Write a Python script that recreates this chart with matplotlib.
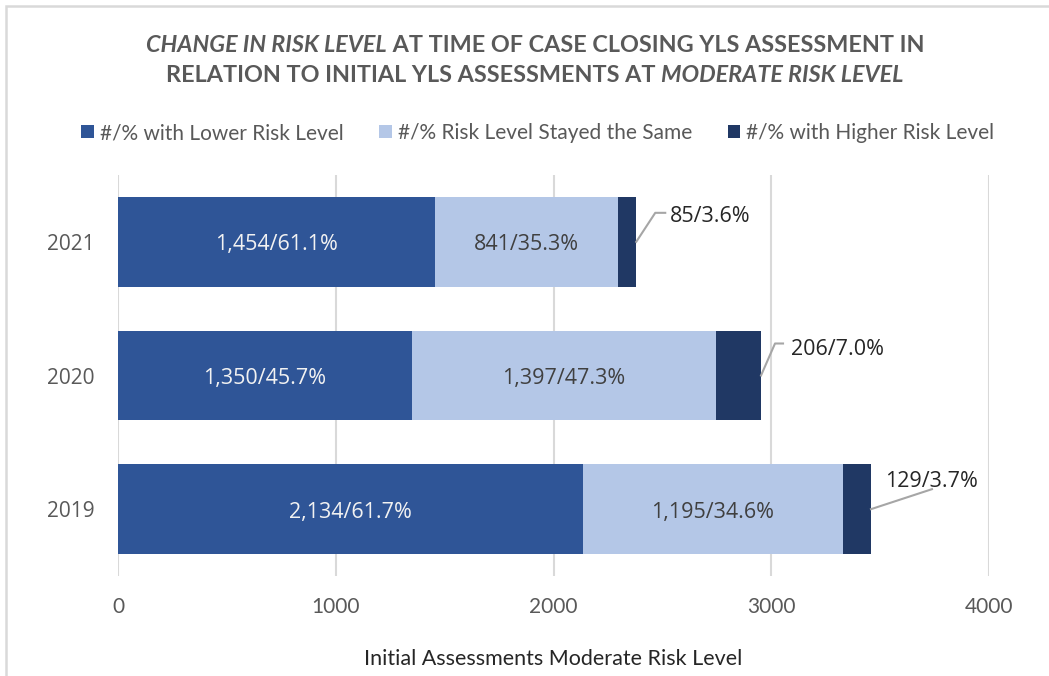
import matplotlib
matplotlib.use("Agg")
import matplotlib.pyplot as plt
from matplotlib.patches import Rectangle

years = ["2019", "2020", "2021"]
lower = [2134, 1350, 1454]
same = [1195, 1397, 841]
higher = [129, 206, 85]
lower_lbl = ["2,134/61.7%", "1,350/45.7%", "1,454/61.1%"]
same_lbl = ["1,195/34.6%", "1,397/47.3%", "841/35.3%"]
higher_lbl = ["129/3.7%", "206/7.0%", "85/3.6%"]
series_names = ["#/% with Lower Risk Level", "#/% Risk Level Stayed the Same",
                "#/% with Higher Risk Level"]
xticks = [0, 1000, 2000, 3000, 4000]
title1 = [("CHANGE IN RISK LEVEL", "italic"), (" AT TIME OF CASE CLOSING YLS ASSESSMENT IN", "normal")]
title2 = [("RELATION TO INITIAL YLS ASSESSMENTS AT ", "normal"), ("MODERATE RISK LEVEL", "italic")]
xlabel = "Initial Assessments Moderate Risk Level"

c_lower = "#2F5597"
c_same = "#B4C7E7"
c_high = "#203864"
gray = "#595959"
cal = ["Lato", "DejaVu Sans"]
seg = ["Open Sans", "DejaVu Sans"]

W, H = 1049, 676
fig = plt.figure(figsize=(W / 100, H / 100), dpi=100)
fig.patch.set_facecolor("white")
fig.add_artist(Rectangle((6 / W, -0.1), 1.2, 1.1 - 6 / H, transform=fig.transFigure,
                         fill=False, edgecolor="#D9D9D9", lw=1.8))

ax = fig.add_axes([118 / W, 1 - 576 / H, (989 - 118) / W, (576 - 175) / H])
y = list(range(len(years)))
h = 0.67
b1 = ax.barh(y, lower, height=h, color=c_lower, label=series_names[0], zorder=3)
b2 = ax.barh(y, same, left=lower, height=h, color=c_same, label=series_names[1], zorder=3)
left3 = [a + b for a, b in zip(lower, same)]
b3 = ax.barh(y, higher, left=left3, height=h, color=c_high, label=series_names[2], zorder=3)

ax.set_xlim(0, 4000)
ax.set_ylim(-0.5, len(years) - 0.5)

for i in y:
    ax.annotate(lower_lbl[i], xy=(lower[i] / 2, i), xytext=(0, -3), textcoords="offset pixels",
                ha="center", va="center", color="#F2F2F2", fontsize=15.5, family=seg, zorder=4)
    ax.annotate(same_lbl[i], xy=(lower[i] + same[i] / 2, i), xytext=(0, -3), textcoords="offset pixels",
                ha="center", va="center", color="#404040", fontsize=15.5, family=seg, zorder=4)

# leader-line labels for small segments (offsets in pixels from the bar end)
leader = {
    2: [(0, 0), (19, 29), (29, 29)],
    1: [(0, 0), (14, 32), (22, 32)],
    0: [(0, 0), (61, 20)],
}
text_off = {2: (34, 25), 1: (30, 26), 0: (14, 28)}
inv = ax.transData.inverted()
for i in y:
    end = left3[i] + higher[i]
    X0, Y0 = ax.transData.transform((end, i))
    pts = [inv.transform((X0 + dx, Y0 + dy)) for dx, dy in leader[i]]
    ax.plot([p[0] for p in pts], [p[1] for p in pts], color="#A6A6A6", lw=1.5,
            clip_on=False, zorder=5)
    ax.annotate(higher_lbl[i], xy=(end, i), xytext=text_off[i], textcoords="offset pixels",
                ha="left", va="center", fontsize=15.5, family=seg, color="#262626", zorder=5)

ax.set_xticks(xticks)
ax.set_xticklabels([str(t) for t in xticks], fontsize=15, color=gray, family=cal)
ax.set_yticks(y)
ax.set_yticklabels(years, fontsize=15, color=gray, family=seg)
ax.tick_params(length=0)
ax.tick_params(axis="x", pad=15)
ax.tick_params(axis="y", pad=17)
ax.grid(axis="x", color="#D9D9D9", lw=1.5, zorder=0)
for s in ax.spines.values():
    s.set_visible(False)
ax.set_xlabel(xlabel, fontsize=15.5, color="#262626", family=cal, labelpad=23)

fig.canvas.draw()
renderer = fig.canvas.get_renderer()

def mixed_line(parts, ycen):
    texts, widths = [], []
    for s, style in parts:
        t = fig.text(0, 0, s, fontsize=16.8, fontweight="bold", style=style, color=gray,
                     family=cal, ha="left", va="center")
        texts.append(t)
        widths.append(t.get_window_extent(renderer).width)
    x = 535 - sum(widths) / 2
    for t, w in zip(texts, widths):
        t.set_position((x / W, 1 - ycen / H))
        x += w

mixed_line(title1, 45)
mixed_line(title2, 75)

fig.legend(handles=[b1, b2, b3], labels=series_names, loc="center", bbox_to_anchor=(538 / W, 1 - 133 / H),
           ncol=3, frameon=False, prop={"family": cal, "size": 15}, labelcolor=gray,
           handlelength=0.6, handleheight=0.6, handletextpad=0.3, columnspacing=1.7)

fig.savefig("out.png", dpi=100)
